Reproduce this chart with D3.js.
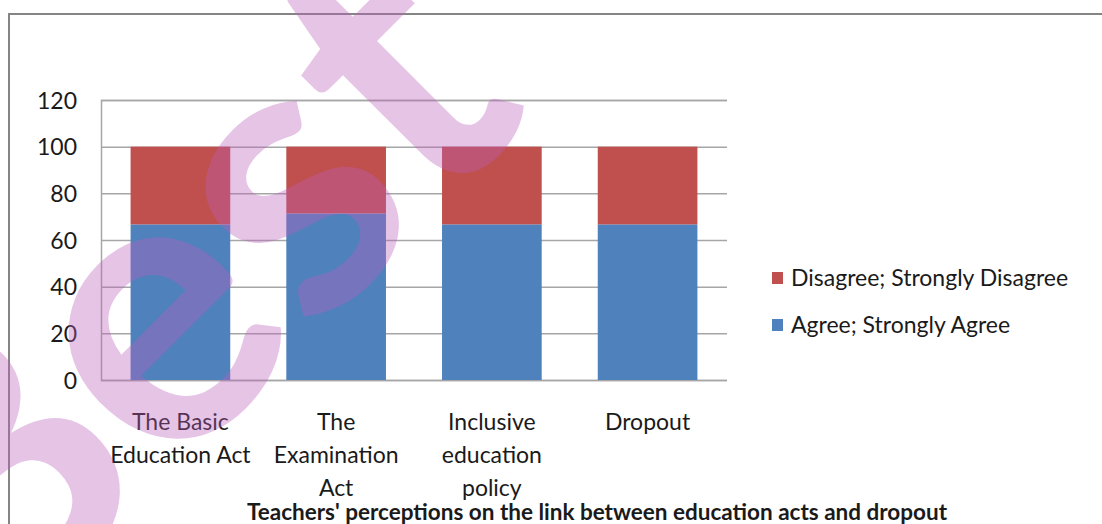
<!DOCTYPE html>
<html>
<head>
<meta charset="utf-8">
<script src="https://cdn.jsdelivr.net/npm/d3@7"></script>
<style>
  html, body { margin: 0; padding: 0; background: #fff; }
  svg { display: block; }
  text { font-family: Lato, "Open Sans", sans-serif; fill: #1a1a1a; }
</style>
</head>
<body>
<svg id="chart" width="1102" height="524"></svg>
<script>
// Chart data
const categories = [
  ["The Basic", "Education Act"],
  ["The", "Examination", "Act"],
  ["Inclusive", "education", "policy"],
  ["Dropout"]
];
const agree = [66.7, 71.4, 66.7, 66.7];
const disagree = [33.3, 28.6, 33.3, 33.3];
const seriesNames = ["Agree; Strongly Agree", "Disagree; Strongly Disagree"];
const seriesColors = ["#4F81BD", "#C0504D"];
const yTicks = [0, 20, 40, 60, 80, 100, 120];
const title = "Teachers' perceptions on the link between education acts and dropout";
const watermark = "Best";

const svg = d3.select("#chart");
const W = 1102, H = 524;
const plot = { left: 101, right: 727, top: 100, bottom: 380 };

// Outer chart frame
svg.append("path")
  .attr("d", `M9,${H} V14 H${W}`)
  .attr("fill", "none")
  .attr("stroke", "#858585")
  .attr("stroke-width", 2);

const keys = categories.map((c, i) => i);
const x = d3.scaleBand()
  .domain(keys)
  .range([plot.left, plot.right])
  .paddingInner(0.36)
  .paddingOuter(0.19);
const y = d3.scaleLinear().domain([0, 120]).range([plot.bottom, plot.top]);

// Gridlines and value axis
const yAxis = d3.axisLeft(y).tickValues(yTicks).tickSize(-(plot.right - plot.left)).tickPadding(24);
const gy = svg.append("g").attr("transform", `translate(${plot.left},0)`).call(yAxis);
gy.select(".domain").attr("stroke", "#a6a6a6").attr("stroke-width", 1.5);
gy.selectAll(".tick line").attr("stroke", "#a6a6a6").attr("stroke-width", 1.5);
gy.selectAll(".tick text")
  .attr("font-size", 23)
  .attr("font-family", "Lato, sans-serif")
  .attr("fill", "#1a1a1a")
  .attr("dy", "0.36em");

// Stacked bars
const rows = keys.map(i => ({ key: i, agree: agree[i], disagree: disagree[i] }));
const stack = d3.stack().keys(["agree", "disagree"]);
const layers = stack(rows);
svg.append("g").selectAll("g")
  .data(layers)
  .join("g")
  .attr("fill", (d, i) => seriesColors[i])
  .selectAll("rect")
  .data(d => d)
  .join("rect")
  .attr("x", d => x(d.data.key))
  .attr("width", x.bandwidth())
  .attr("y", d => y(d[1]))
  .attr("height", d => y(d[0]) - y(d[1]));

// Category labels
const catG = svg.append("g");
categories.forEach((lines, i) => {
  const cx = x(i) + x.bandwidth() / 2;
  const t = catG.append("text")
    .attr("text-anchor", "middle")
    .attr("font-size", 23);
  lines.forEach((ln, j) => {
    t.append("tspan").attr("x", cx).attr("y", 430 + j * 33).text(ln);
  });
});

// Legend (Disagree listed first, as stacked top-down)
const legendItems = [1, 0];
const lg = svg.append("g");
legendItems.forEach((s, j) => {
  const cy = 278 + j * 47;
  lg.append("rect")
    .attr("x", 772).attr("y", cy - 6)
    .attr("width", 11).attr("height", 12)
    .attr("fill", seriesColors[s]);
  lg.append("text")
    .attr("x", 791).attr("y", cy)
    .attr("dy", "0.36em")
    .attr("font-size", 23)
    .text(seriesNames[s]);
});

// Title
svg.append("text")
  .attr("x", 597).attr("y", 520)
  .attr("text-anchor", "middle")
  .attr("font-size", 22.5)
  .attr("font-weight", "bold")
  .attr("fill", "#000")
  .text(title);

// Watermark overlay
svg.append("text")
  .attr("transform", "translate(-15,665) rotate(-45)")
  .attr("font-family", "DejaVu Sans, sans-serif")
  .attr("font-weight", "bold")
  .attr("font-size", 390)
  .style("fill", "rgb(188,95,188)")
  .attr("fill-opacity", 0.37)
  .text(watermark);
</script>
</body>
</html>
